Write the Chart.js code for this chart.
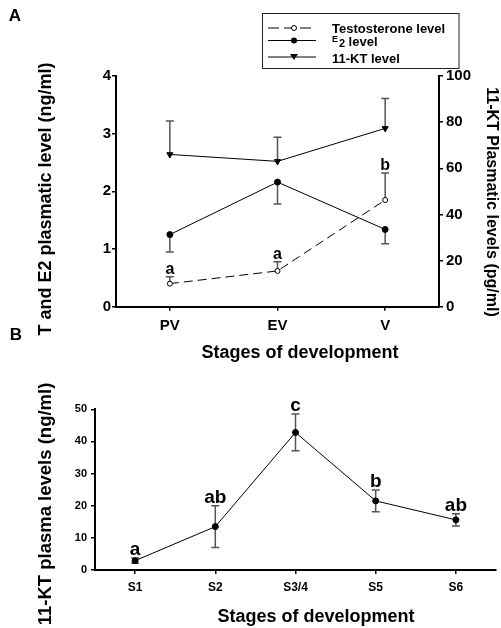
<!DOCTYPE html>
<html>
<head>
<meta charset="utf-8">
<script src="https://cdn.jsdelivr.net/npm/chart.js@4.4.1/dist/chart.umd.min.js"></script>
<style>
  body { margin: 0; background: #fff; }
  #wrap { position: relative; width: 501px; height: 628px; overflow: hidden; }
  canvas { position: absolute; left: 0; }
</style>
</head>
<body>
<div id="wrap">
  <canvas id="chartA" width="501" height="370" style="top:0"></canvas>
  <canvas id="chartB" width="501" height="310" style="top:318px"></canvas>
</div>
<script>
// panel A : T, E2 (ng/ml, left axis) and 11-KT (pg/ml, right axis)
const stagesA = ["PV", "EV", "V"];
const testosterone = [0.40, 0.62, 1.85];
const testosteroneErr = [0.12, 0.16, 0.47];
const estradiol = [1.25, 2.16, 1.34];
const estradiolErr = [0.30, 0.38, 0.25];
const kt11A = [66, 63, 77.3];
const kt11AErr = [14.5, 10.5, 13];
const lettersA = ["a", "a", "b"];

// panel B : 11-KT (ng/ml)
const stagesB = ["S1", "S2", "S3/4", "S5", "S6"];
const kt11B = [2.9, 13.5, 42.8, 21.5, 15.6];
const kt11BErr = [0.8, 6.5, 5.7, 3.4, 1.9];
const lettersB = ["a", "ab", "c", "b", "ab"];

const FONT = '"Liberation Sans", Arial, Helvetica, sans-serif';
const ink = "#000";
const errGrey = "#555";

function font(size) {
  return "bold " + size + "px " + FONT;
}

// error bars: dir = "up", "down" or "both"
function drawErr(ctx, xs, ys, vals, errs, dir) {
  ctx.save();
  ctx.strokeStyle = errGrey;
  ctx.lineWidth = 1.5;
  vals.forEach((v, i) => {
    const px = xs.getPixelForValue(i);
    const top = dir === "down" ? v : v + errs[i];
    const bot = dir === "up" ? v : v - errs[i];
    const pt = ys.getPixelForValue(top);
    const pb = ys.getPixelForValue(bot);
    ctx.beginPath();
    ctx.moveTo(px, pt);
    ctx.lineTo(px, pb);
    if (dir !== "down") { ctx.moveTo(px - 4, pt); ctx.lineTo(px + 4, pt); }
    if (dir !== "up") { ctx.moveTo(px - 4, pb); ctx.lineTo(px + 4, pb); }
    ctx.stroke();
  });
  ctx.restore();
}

function drawLetters(ctx, xs, ys, vals, errs, letters, size) {
  ctx.save();
  ctx.fillStyle = ink;
  ctx.font = font(size);
  ctx.textAlign = "center";
  ctx.textBaseline = "alphabetic";
  letters.forEach((t, i) => {
    const px = xs.getPixelForValue(i);
    const py = ys.getPixelForValue(vals[i] + errs[i]);
    ctx.fillText(t, px, py - 3);
  });
  ctx.restore();
}

function rotatedText(ctx, text, x, y, size, angle) {
  ctx.save();
  ctx.translate(x, y);
  ctx.rotate(angle);
  ctx.font = font(size);
  ctx.fillStyle = ink;
  ctx.textAlign = "center";
  ctx.textBaseline = "middle";
  ctx.fillText(text, 0, 0);
  ctx.restore();
}

function plainText(ctx, text, x, y, size, align) {
  ctx.save();
  ctx.font = font(size);
  ctx.fillStyle = ink;
  ctx.textAlign = align || "center";
  ctx.textBaseline = "middle";
  ctx.fillText(text, x, y);
  ctx.restore();
}

function drawLegend(ctx) {
  ctx.save();
  ctx.strokeStyle = "#222";
  ctx.lineWidth = 1;
  ctx.strokeRect(262.5, 13.5, 196.5, 55);

  ctx.strokeStyle = ink;
  // testosterone row: dashed with open circle
  ctx.setLineDash([11, 5]);
  ctx.beginPath(); ctx.moveTo(268, 28); ctx.lineTo(316, 28); ctx.stroke();
  ctx.setLineDash([]);
  ctx.beginPath(); ctx.arc(294, 28, 2.5, 0, Math.PI * 2);
  ctx.fillStyle = "#fff"; ctx.fill(); ctx.stroke();
  // E2 row
  ctx.beginPath(); ctx.moveTo(268, 40.5); ctx.lineTo(316, 40.5); ctx.stroke();
  ctx.fillStyle = ink;
  ctx.beginPath(); ctx.arc(294, 40.5, 3, 0, Math.PI * 2); ctx.fill();
  // 11-KT row
  ctx.beginPath(); ctx.moveTo(268, 57); ctx.lineTo(316, 57); ctx.stroke();
  ctx.beginPath(); ctx.moveTo(290, 54); ctx.lineTo(298, 54); ctx.lineTo(294, 60); ctx.closePath(); ctx.fill();

  ctx.textAlign = "left";
  ctx.textBaseline = "alphabetic";
  ctx.font = font(13);
  ctx.fillText("Testosterone level", 332, 33);
  ctx.font = font(9);
  ctx.fillText("E", 332, 42);
  ctx.font = font(11);
  ctx.fillText("2", 339, 46.5);
  ctx.font = font(13);
  ctx.fillText(" level", 345, 46);
  ctx.fillText("11-KT level", 332, 63);
  ctx.restore();
}

const panelA = {
  id: "panelA",
  beforeDatasetsDraw(chart) {
    const { ctx, scales } = chart;
    drawErr(ctx, scales.x, scales.y, testosterone, testosteroneErr, "up");
    drawErr(ctx, scales.x, scales.y, estradiol, estradiolErr, "down");
    drawErr(ctx, scales.x, scales.y1, kt11A, kt11AErr, "up");
  },
  afterDraw(chart) {
    const { ctx, scales } = chart;
    drawLetters(ctx, scales.x, scales.y, testosterone, testosteroneErr, lettersA, 16);
    plainText(ctx, "A", 15, 16, 17);
    rotatedText(ctx, "T and E2 plasmatic level (ng/ml)", 46, 199, 18, -Math.PI / 2);
    rotatedText(ctx, "11-KT Plasmatic levels (pg/ml)", 491, 202, 16, Math.PI / 2);
    plainText(ctx, "Stages of development", 300, 353, 18);
    drawLegend(ctx);
  }
};

const panelB = {
  id: "panelB",
  beforeDatasetsDraw(chart) {
    const { ctx, scales } = chart;
    drawErr(ctx, scales.x, scales.y, kt11B, kt11BErr, "both");
  },
  afterDraw(chart) {
    const { ctx, scales } = chart;
    drawLetters(ctx, scales.x, scales.y, kt11B, kt11BErr, lettersB, 19);
    plainText(ctx, "B", 16, 17, 17);
    rotatedText(ctx, "11-KT plasma levels (ng/ml)", 46, 186, 18.5, -Math.PI / 2);
    plainText(ctx, "Stages of development", 316, 299, 18);
  }
};

function axisStyle(size, pad) {
  return {
    grid: { display: true, drawOnChartArea: false, drawTicks: true, tickLength: 4, color: ink, lineWidth: 1.5 },
    border: { display: true, color: ink, width: 2 },
    ticks: { color: ink, padding: pad, font: { family: FONT, size: size, weight: "bold" } }
  };
}

const xA = axisStyle(15, 6);
xA.offset = true;
xA.ticks.maxRotation = 0;
xA.afterFit = (s) => { s.height = 63.3; };

const yA = axisStyle(15, 1);
yA.min = 0; yA.max = 4;
yA.ticks.stepSize = 1;
yA.afterFit = (s) => { s.width = 116; };

const y1A = axisStyle(15, 3);
y1A.position = "right";
y1A.min = 0; y1A.max = 100;
y1A.ticks.stepSize = 20;
y1A.afterFit = (s) => { s.width = 62; };

new Chart(document.getElementById("chartA"), {
  type: "line",
  data: {
    labels: stagesA,
    datasets: [
      {
        label: "Testosterone level",
        data: testosterone,
        yAxisID: "y",
        borderColor: ink,
        borderWidth: 1,
        borderDash: [9, 5],
        pointStyle: "circle",
        pointRadius: 2.5,
        pointBackgroundColor: "#fff",
        pointBorderColor: ink,
        pointBorderWidth: 1
      },
      {
        label: "E2 level",
        data: estradiol,
        yAxisID: "y",
        borderColor: ink,
        borderWidth: 1,
        pointStyle: "circle",
        pointRadius: 3,
        pointBackgroundColor: ink,
        pointBorderColor: ink
      },
      {
        label: "11-KT level",
        data: kt11A,
        yAxisID: "y1",
        borderColor: ink,
        borderWidth: 1,
        pointStyle: "triangle",
        pointRotation: 180,
        pointRadius: 3.5,
        pointBackgroundColor: ink,
        pointBorderColor: ink
      }
    ]
  },
  options: {
    responsive: false,
    animation: false,
    devicePixelRatio: 1,
    layout: { padding: { top: 76, left: 0, right: 0, bottom: 0 } },
    plugins: { legend: { display: false }, tooltip: { enabled: false } },
    scales: { x: xA, y: yA, y1: y1A }
  },
  plugins: [panelA]
});

const xB = axisStyle(12, 6);
xB.offset = true;
xB.ticks.maxRotation = 0;
xB.afterFit = (s) => { s.height = 58; };

const yB = axisStyle(11, 4);
yB.min = 0; yB.max = 50;
yB.ticks.stepSize = 10;
yB.afterFit = (s) => { s.width = 95; };

new Chart(document.getElementById("chartB"), {
  type: "line",
  data: {
    labels: stagesB,
    datasets: [
      {
        label: "11-KT",
        data: kt11B,
        borderColor: ink,
        borderWidth: 1,
        pointStyle: "circle",
        pointRadius: 3,
        pointBackgroundColor: ink,
        pointBorderColor: ink
      }
    ]
  },
  options: {
    responsive: false,
    animation: false,
    devicePixelRatio: 1,
    layout: { padding: { top: 91.3, left: 0, right: 3, bottom: 0 } },
    plugins: { legend: { display: false }, tooltip: { enabled: false } },
    scales: { x: xB, y: yB }
  },
  plugins: [panelB]
});
</script>
</body>
</html>
